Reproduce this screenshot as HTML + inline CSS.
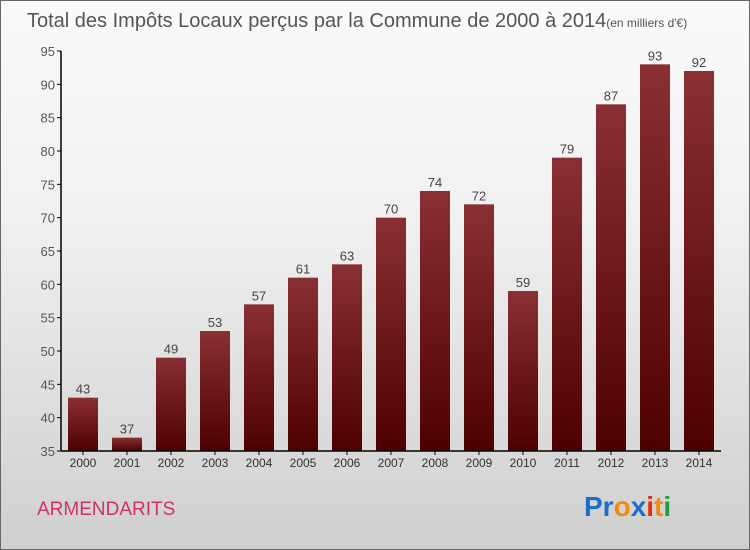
<!DOCTYPE html>
<html><head><meta charset="utf-8"><style>
body{margin:0}
#wrap{position:relative;width:748px;height:548px;border:1px solid #666;background:linear-gradient(#fafafa,#f0f0f0 40%,#cfcfcf);overflow:hidden;font-family:"Liberation Sans",sans-serif}
</style></head><body>
<div id="wrap">
<svg id="chart" width="748" height="548">
<defs><linearGradient id="bg" x1="0" y1="0" x2="0" y2="1"><stop offset="0" stop-color="#8a3034"/><stop offset="1" stop-color="#4e0000"/></linearGradient></defs>
<text x="26" y="26" font-size="20" fill="#555">Total des Impôts Locaux perçus par la Commune de 2000 à 2014<tspan font-size="12">(en milliers d'€)</tspan></text>
<text x="36" y="514" font-size="19" fill="#d0306a">ARMENDARITS</text>
<text x="583" y="515" font-size="28" font-weight="bold"><tspan fill="#1a6fc8">Pr</tspan><tspan fill="#f08a10">o</tspan><tspan fill="#1a6fc8">x</tspan><tspan fill="#e03010">i</tspan><tspan fill="#f08a10">t</tspan><tspan fill="#2a9a40">i</tspan></text>
<g id="g"></g>
</svg>
</div>
<script>
const categories=["2000","2001","2002","2003","2004","2005","2006","2007","2008","2009","2010","2011","2012","2013","2014"];
const values=[43,37,49,53,57,61,63,70,74,72,59,79,87,93,92];
const yTicks=[35,40,45,50,55,60,65,70,75,80,85,90,95];
const NS="http://www.w3.org/2000/svg";
const g=document.getElementById('g');
const y=v=>450-(v-35)*(400/60);
const x=i=>82+i*44;
function mk(t,a,txt){const e=document.createElementNS(NS,t);for(const k in a)e.setAttribute(k,a[k]);if(txt!==undefined)e.textContent=txt;g.appendChild(e);return e;}
yTicks.forEach(v=>{
 const l=mk('line',{x1:56,x2:60,y1:y(v),y2:y(v),stroke:'#000'});
 
 
 const t=mk('text',{x:54,y:y(v)+5,'font-size':13,fill:'#555','text-anchor':'end'},v);
 
 
});
values.forEach((v,i)=>{
 const r=mk('rect',{x:x(i)-15,y:y(v),width:30,height:450-y(v),fill:'url(#bg)'});
 
 
 const t=mk('text',{x:x(i),y:y(v)-4,'font-size':13,fill:'#444','text-anchor':'middle'},v);
 
 
 const c=mk('text',{x:x(i),y:466,'font-size':12,fill:'#333','text-anchor':'middle'},categories[i]);
 
 
 const tk=mk('line',{x1:x(i),x2:x(i),y1:450,y2:454,stroke:'#000'});
 
 
});
const ya=mk('line',{x1:60,x2:60,y1:50,y2:450,stroke:'#000','stroke-width':1.5});


const xa=mk('line',{x1:60,x2:720,y1:450,y2:450,stroke:'#000','stroke-width':1.5});


</script>
</body></html>
